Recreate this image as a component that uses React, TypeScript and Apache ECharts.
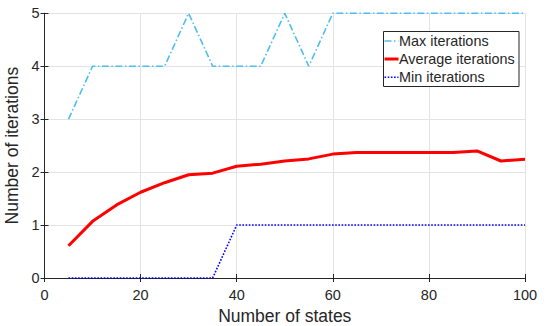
import React, { useEffect, useRef } from "react";
import * as echarts from "echarts";

// Number of states on the horizontal axis
const states = [5, 10, 15, 20, 25, 30, 35, 40, 45, 50, 55, 60, 65, 70, 75, 80, 85, 90, 95, 100];
const maxIterations = [3, 4, 4, 4, 4, 5, 4, 4, 4, 5, 4, 5, 5, 5, 5, 5, 5, 5, 5, 5];
const avgIterations = [0.61, 1.07, 1.38, 1.62, 1.8, 1.95, 1.98, 2.11, 2.15, 2.21, 2.25, 2.34, 2.37, 2.37, 2.37, 2.37, 2.37, 2.4, 2.21, 2.245];
const minIterations = [0, 0, 0, 0, 0, 0, 0, 1, 1, 1, 1, 1, 1, 1, 1, 1, 1, 1, 1, 1];

const seriesNames = ["Max iterations", "Average iterations", "Min iterations"];
const seriesColors = ["#4DBEEE", "#FF0000", "#0000FF"];

const FONT = "'Liberation Sans', Arial, Helvetica, sans-serif";
const INK = "#262626";
const GRID = "#e3e3e3";

const pairs = (ys: number[]) => states.map((x, i) => [x, ys[i]]);

export default function App() {
  const ref = useRef<HTMLDivElement>(null);

  useEffect(() => {
    if (!ref.current) return;
    const chart = echarts.init(ref.current, undefined, { renderer: "svg" });

    const baseX = {
      type: "value" as const,
      min: 0,
      max: 100,
      interval: 20,
    };
    const baseY = {
      type: "value" as const,
      min: 0,
      max: 5,
      interval: 1,
    };

    const legendLeft = 383.5;
    const legendTop = 31.5;
    const legendW = 135.5;
    const legendH = 55;
    const rowY = [41, 59, 77.3];
    const dashes: any[] = [[7, 2.5, 1.5, 2.5], "solid", [1.6, 1.6]];
    const widths = [1.6, 3, 1.6];

    const legendItems: any[] = [];
    seriesNames.forEach((name, i) => {
      legendItems.push({
        type: "line",
        shape: { x1: legendLeft + 1, y1: rowY[i], x2: legendLeft + 15, y2: rowY[i] },
        style: { stroke: seriesColors[i], lineWidth: widths[i], lineDash: dashes[i] === "solid" ? null : dashes[i] },
        z: 101,
      });
      legendItems.push({
        type: "text",
        x: legendLeft + 15.5,
        y: rowY[i],
        style: {
          text: name,
          font: `14.4px ${FONT}`,
          fill: INK,
          textVerticalAlign: "middle",
          verticalAlign: "middle",
        },
        z: 101,
      });
    });

    chart.setOption({
      animation: false,
      backgroundColor: "#ffffff",
      textStyle: { fontFamily: FONT },
      grid: { left: 44.5, right: 23, top: 13.3, bottom: 48, containLabel: false, outerBoundsMode: "none" },
      xAxis: [
        {
          ...baseX,
          position: "bottom",
          name: "Number of states",
          nameLocation: "middle",
          nameGap: 27,
          nameTextStyle: { fontSize: 17.5, color: INK, fontFamily: FONT },
          axisLine: { show: true, lineStyle: { color: INK, width: 1 } },
          axisTick: { show: true, inside: true, length: 4, lineStyle: { color: INK } },
          axisLabel: { fontSize: 14.5, color: INK, margin: 9, fontFamily: FONT },
          splitLine: { show: true, lineStyle: { color: GRID, width: 1 } },
        },
        {
          ...baseX,
          position: "top",
          axisLine: { show: true, lineStyle: { color: INK, width: 1 } },
          axisTick: { show: true, inside: true, length: 4, lineStyle: { color: INK } },
          axisLabel: { show: false },
          splitLine: { show: false },
        },
      ],
      yAxis: [
        {
          ...baseY,
          position: "left",
          name: "Number of iterations",
          nameLocation: "middle",
          nameGap: 13,
          nameTextStyle: { fontSize: 17.5, color: INK, fontFamily: FONT },
          axisLine: { show: true, lineStyle: { color: INK, width: 1 } },
          axisTick: { show: true, inside: true, length: 4, lineStyle: { color: INK } },
          axisLabel: { fontSize: 14.5, color: INK, margin: 5, fontFamily: FONT },
          splitLine: { show: true, lineStyle: { color: GRID, width: 1 } },
        },
        {
          ...baseY,
          position: "right",
          axisLine: { show: true, lineStyle: { color: INK, width: 1 } },
          axisTick: { show: true, inside: true, length: 4, lineStyle: { color: INK } },
          axisLabel: { show: false },
          splitLine: { show: false },
        },
      ],
      series: [
        {
          name: seriesNames[0],
          type: "line",
          data: pairs(maxIterations),
          showSymbol: false,
          symbol: "none",
          clip: false,
          lineStyle: { color: seriesColors[0], width: widths[0], type: dashes[0] },
          z: 3,
        },
        {
          name: seriesNames[1],
          type: "line",
          data: pairs(avgIterations),
          showSymbol: false,
          symbol: "none",
          clip: false,
          lineStyle: { color: seriesColors[1], width: widths[1], type: "solid" },
          z: 4,
        },
        {
          name: seriesNames[2],
          type: "line",
          data: pairs(minIterations),
          showSymbol: false,
          symbol: "none",
          clip: false,
          lineStyle: { color: seriesColors[2], width: widths[2], type: dashes[2] },
          z: 5,
        },
      ],
      graphic: [
        {
          type: "rect",
          shape: { x: legendLeft, y: legendTop, width: legendW, height: legendH },
          style: { fill: "#ffffff", stroke: INK, lineWidth: 1 },
          z: 100,
        },
        ...legendItems,
      ],
    });

    return () => chart.dispose();
  }, []);

  return <div ref={ref} style={{ width: 548, height: 326, position: "absolute", left: 0, top: 0 }} />;
}
